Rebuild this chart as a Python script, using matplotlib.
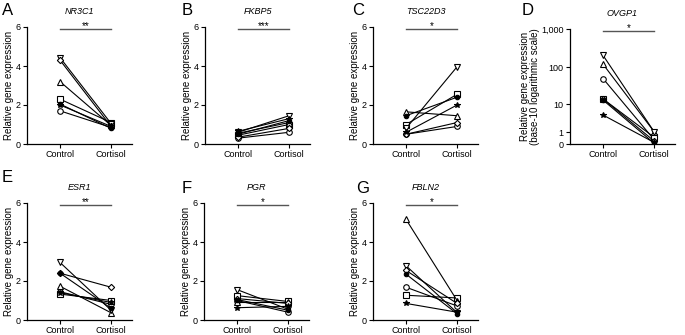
import numpy as np
import matplotlib
matplotlib.use('Agg')
import matplotlib.pyplot as plt

plt.rcParams['font.family'] = ['Liberation Sans', 'DejaVu Sans']

groups = ['Control', 'Cortisol']
# marker order: open circle, open square, open up-tri, open down-tri, open diamond, filled circle, filled star
markers = ['o', 's', '^', 'v', 'D', 'o', '*']
filled = [False, False, False, False, False, True, True]

genes = ['NR3C1', 'FKBP5', 'TSC22D3', 'OVGP1', 'ESR1', 'PGR', 'FBLN2']
letters = ['A', 'B', 'C', 'D', 'E', 'F', 'G']
stars = ['**', '***', '*', '*', '**', '*', '*']

ctrl_nr3c1 = [1.7, 2.3, 3.2, 4.43, 4.3, 2.05, 2.0]
cort_nr3c1 = [0.85, 1.1, 0.95, 1.05, 0.9, 0.8, 0.9]
ctrl_fkbp5 = [0.3, 0.45, 0.55, 0.6, 0.35, 0.5, 0.65]
cort_fkbp5 = [0.6, 1.0, 1.1, 1.45, 0.8, 1.2, 1.3]
ctrl_tsc = [0.5, 1.0, 1.65, 0.8, 0.5, 1.45, 0.6]
cort_tsc = [0.9, 2.55, 1.45, 3.96, 1.1, 2.4, 2.0]
ctrl_ovgp1 = [50, 14, 120, 205, 14, 13, 4.7]
cort_ovgp1 = [0.3, 0.5, 1.1, 1.1, 0.2, 0.05, 0.1]
ctrl_esr1 = [1.45, 1.33, 1.73, 2.95, 2.4, 2.4, 1.4]
cort_esr1 = [0.8, 1.0, 0.37, 0.5, 1.68, 0.6, 0.9]
ctrl_pgr = [1.0, 1.25, 0.9, 1.56, 1.1, 1.05, 0.63]
cort_pgr = [0.4, 0.95, 0.9, 0.55, 0.85, 0.5, 0.7]
ctrl_fbln2 = [1.68, 1.27, 5.16, 2.78, 2.54, 2.35, 0.85]
cort_fbln2 = [0.72, 1.13, 1.0, 0.38, 0.85, 0.32, 0.4]

ctrl_all = [ctrl_nr3c1, ctrl_fkbp5, ctrl_tsc, ctrl_ovgp1, ctrl_esr1, ctrl_pgr, ctrl_fbln2]
cort_all = [cort_nr3c1, cort_fkbp5, cort_tsc, cort_ovgp1, cort_esr1, cort_pgr, cort_fbln2]

W, H = 685, 335
fig = plt.figure(figsize=(W / 100, H / 100), dpi=100)

# axes left edge / y of zero / y of top (pixels)
lefts = [27, 205, 373, 570, 27, 204, 373]
y0s = [144, 144, 144, 144, 320, 320, 320]
ytops = [27, 27, 27, 29, 203, 203, 203]
axw = 105
letter_pos = [(2, 3), (182, 3), (352, 3), (522, 3), (2, 170), (182, 181), (356, 181)]


def fwd(v):
    return np.log10(np.clip(v, 0, None) + 1)


def inv(v):
    return 10 ** v - 1


for i in range(7):
    ax = fig.add_axes([lefts[i] / W, (H - y0s[i]) / H, axw / W, (y0s[i] - ytops[i]) / H])
    for j in range(7):
        mfc = 'black' if filled[j] else 'white'
        ms = 3.2 if filled[j] else 4.0
        if markers[j] == '*':
            ms = 4.2
        if markers[j] == 'D':
            ms = 3.2
        ax.plot([0, 1], [ctrl_all[i][j], cort_all[i][j]], color='black', lw=0.8,
                marker=markers[j], mfc=mfc, mec='black', mew=0.8, ms=ms, zorder=3 + j * 0.01)
    if i == 3:
        ax.set_yscale('function', functions=(fwd, inv))
        ax.set_ylim(0, 1000)
        ax.set_yticks([0, 1, 10, 100, 1000])
        ax.set_yticklabels(['0', '1', '10', '100', '1,000'])
        ax.yaxis.set_minor_locator(matplotlib.ticker.NullLocator())
        ax.set_ylabel('Relative gene expression\n(base-10 logarithmic scale)', fontsize=7, labelpad=1, linespacing=1.0)
        sig_y = 900
    else:
        ax.set_ylim(0, 6)
        ax.set_yticks([0, 2, 4, 6])
        ax.set_ylabel('Relative gene expression', fontsize=7, labelpad=1)
        sig_y = 5.9
    ax.set_xlim(-0.647, 1.41)
    ax.set_xticks([0, 1])
    ax.set_xticklabels(groups)
    ax.tick_params(labelsize=6.5, length=3, width=0.8, pad=1.5)
    for s in ['top', 'right']:
        ax.spines[s].set_visible(False)
    for s in ['left', 'bottom']:
        ax.spines[s].set_linewidth(0.9)
    ax.plot([0, 1], [sig_y, sig_y], color='#555555', lw=1.0, clip_on=False)
    ax.annotate(stars[i], (0.5, sig_y), xytext=(0, -1.5), textcoords='offset points',
                ha='center', va='bottom', fontsize=7, annotation_clip=False)
    ax.set_title(genes[i], fontsize=6.5, style='italic', pad=9)
    lx, ly = letter_pos[i]
    fig.text(lx / W, 1 - ly / H, letters[i], fontsize=12, ha='left', va='top')

fig.savefig('out.png', dpi=100)
